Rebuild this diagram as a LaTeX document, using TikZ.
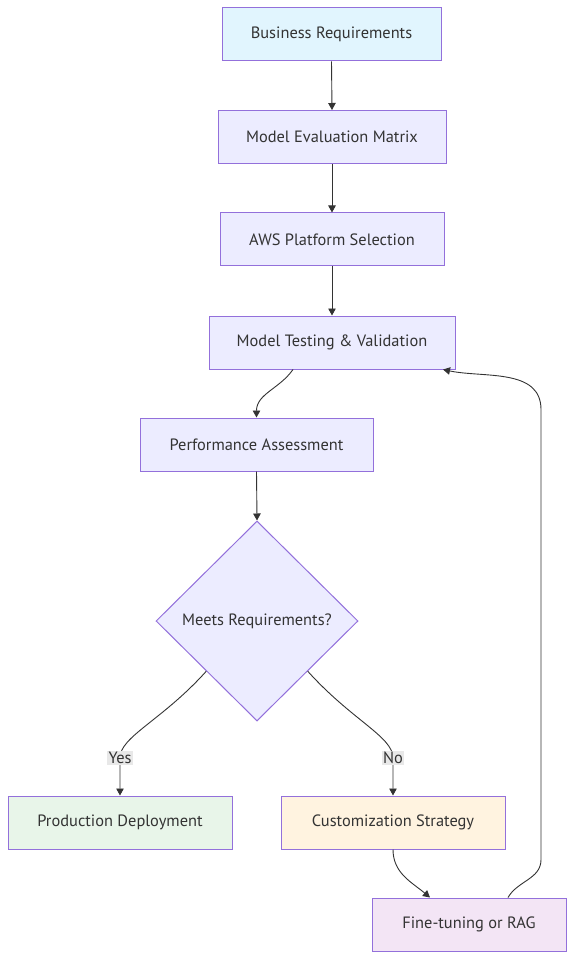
\documentclass[tikz,border=0pt]{standalone}
\usepackage{fontspec}
\setmainfont{PT Sans}
\usetikzlibrary{shapes.geometric,arrows.meta}
\definecolor{ink}{HTML}{333333}
\definecolor{rim}{HTML}{9370DB}
\definecolor{mist}{HTML}{ECECFF}
\definecolor{sky}{HTML}{E1F5FE}
\definecolor{mint}{HTML}{E8F5E9}
\definecolor{peach}{HTML}{FFF3E0}
\definecolor{lilac}{HTML}{F3E5F5}
\definecolor{tagbg}{HTML}{E8E8E8}

\begin{document}
\begin{tikzpicture}[x=1pt, y=1pt,
    every node/.style={text=ink, font=\fontsize{16.4}{19}\selectfont},
    box/.style={draw=rim, fill=mist, line width=1pt, minimum height=53pt, inner sep=0pt},
    flow/.style={draw=ink, line width=0.9pt, -{Triangle[length=7pt,width=7.5pt]}},
    lbl/.style={fill=tagbg, inner sep=1.5pt}]
  \useasboundingbox (0,0) rectangle (581,-973);

  % Main chain
  \node[box, fill=sky, minimum width=219pt] (br) at (331.5,-34.5) {Business Requirements};
  \node[box, minimum width=228pt] (mem) at (332,-137) {Model Evaluation Matrix};
  \node[box, minimum width=224pt] (aws) at (332,-239.5) {AWS Platform Selection};
  \node[box, minimum width=246pt] (mtv) at (332,-342.5) {Model Testing \& Validation};
  \node[box, minimum width=233pt] (pa) at (256.5,-444.5) {Performance Assessment};
  \node[draw=rim, fill=mist, line width=1pt, diamond, aspect=1, inner sep=0pt,
        minimum width=202pt, minimum height=200pt] (dec) at (257,-621) {Meets Requirements?};

  % Outcomes
  \node[box, fill=mint, minimum width=224pt] (pd) at (120,-822.5) {Production Deployment};
  \node[box, fill=peach, minimum width=224pt] (cs) at (393,-822.5) {Customization Strategy};
  \node[box, fill=lilac, minimum width=194pt] (ft) at (469,-924.5) {Fine-tuning or RAG};

  \foreach \a/\b in {br/mem, mem/aws, aws/mtv} {
    \draw[flow] (\a.south) -- (\b.north);
  }
  \draw[flow] ([xshift=-39pt]mtv.south) to[out=-125,in=90] (pa.north);
  \draw[flow] (pa.south) -- (dec.north);

  % Branches with labels
  \coordinate (yes) at (120,-758);
  \coordinate (no) at (393,-758);
  \draw[flow] (dec.south west) to[out=-132,in=90,out looseness=1.4,in looseness=0.45] (yes) -- (pd.north);
  \draw[flow] (dec.south east) to[out=-48,in=90,out looseness=1.4,in looseness=0.45] (no) -- (cs.north);
  \node[lbl] at (yes) {Yes};
  \node[lbl] at (no) {No};

  % Loop back
  \draw[flow] (cs.south) to[out=-90,in=140] ([xshift=-39pt]ft.north);
  \draw[flow] ([xshift=39pt]ft.north) to[out=60,in=-90] ++(33,38) -- ++(0,450)
    to[out=90,in=-12] ([xshift=111pt]mtv.south);
\end{tikzpicture}
\end{document}
